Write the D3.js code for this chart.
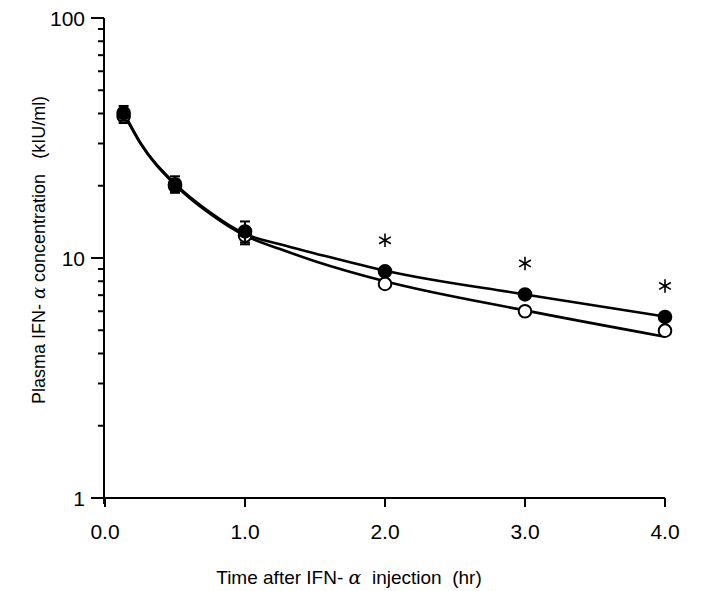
<!DOCTYPE html>
<html>
<head>
<meta charset="utf-8">
<script src="https://cdn.jsdelivr.net/npm/d3@7"></script>
<style>
body { margin: 0; background: #fff; }
text { font-family: "Liberation Sans", Arial, sans-serif; fill: #000; }
</style>
</head>
<body>
<svg id="svg1" width="703" height="591"></svg>
<script>
// measured points (hr, kIU/ml)
var times = [0.133, 0.5, 1.0, 2.0, 3.0, 4.0];
var filledVals = [40.2, 20.3, 12.9, 8.8, 7.05, 5.68];
var filledErr  = [2.8, 1.6, 1.3, 0, 0, 0];
var openVals   = [39.0, 20.0, 12.4, 7.8, 6.0, 4.98];
var openErr    = [2.5, 1.2, 1.0, 0, 0, 0];
var starTimes  = [2.0, 3.0, 4.0];

// fitted curves
var curveTimes = [0.133, 0.25, 0.5, 0.75, 1.0, 1.25, 1.5, 2.0, 3.0, 4.0];
var filledCurve = [40.5, 30.4, 20.4, 15.5, 12.6, 11.4, 10.45, 8.85, 7.05, 5.7];
var openCurve   = [40.0, 30.2, 20.2, 15.3, 12.4, 10.9, 9.7, 8.0, 6.05, 4.7];

var xTicks = [0, 1, 2, 3, 4];
var yMajor = [1, 10, 100];

var svg = d3.select("#svg1");

var x = d3.scaleLinear().domain([0, 4]).range([105, 665]);
var y = d3.scaleLog().domain([1, 100]).range([498, 18]);

// y minor ticks 2..9 in each decade
var yMinor = [];
for (var d = 1; d < 100; d *= 10)
    for (var k = 2; k <= 9; k++) yMinor.push(d * k);

var yAxis = svg.append("g").attr("transform", "translate(104,0)");
yAxis.append("line")
    .attr("x1", 0).attr("x2", 0)
    .attr("y1", y(100)).attr("y2", y(1) + 6)
    .attr("stroke", "#000").attr("stroke-width", 2);
yAxis.selectAll(".maj").data(yMajor).enter().append("line")
    .attr("x1", -13).attr("x2", 0)
    .attr("y1", function(d) { return y(d); })
    .attr("y2", function(d) { return y(d); })
    .attr("stroke", "#000").attr("stroke-width", 2);
yAxis.selectAll(".min").data(yMinor).enter().append("line")
    .attr("x1", -6).attr("x2", 0)
    .attr("y1", function(d) { return y(d); })
    .attr("y2", function(d) { return y(d); })
    .attr("stroke", "#000").attr("stroke-width", 2);
yAxis.selectAll("text").data(yMajor).enter().append("text")
    .attr("x", -19)
    .attr("y", function(d) { return y(d); })
    .attr("dy", "0.36em")
    .attr("text-anchor", "end")
    .attr("font-size", 21)
    .text(function(d) { return d; });

// x axis
var xAxis = svg.append("g").attr("transform", "translate(0," + y(1) + ")");
xAxis.append("line")
    .attr("x1", 104).attr("x2", x(4))
    .attr("y1", 0).attr("y2", 0)
    .attr("stroke", "#000").attr("stroke-width", 2);
xAxis.selectAll("line.t").data(xTicks).enter().append("line")
    .attr("x1", function(d) { return x(d); })
    .attr("x2", function(d) { return x(d); })
    .attr("y1", 0).attr("y2", 9)
    .attr("stroke", "#000").attr("stroke-width", 2);
xAxis.selectAll("text").data(xTicks).enter().append("text")
    .attr("x", function(d) { return x(d); })
    .attr("y", 41)
    .attr("text-anchor", "middle")
    .attr("font-size", 21)
    .text(function(d) { return d.toFixed(1); });

// axis titles
var xt = svg.append("text")
    .attr("x", 349).attr("y", 584)
    .attr("text-anchor", "middle")
    .attr("font-size", 19)
    .attr("xml:space", "preserve");
xt.append("tspan").text("Time after IFN- ");
xt.append("tspan").attr("font-style", "italic").attr("font-family", "DejaVu Serif").text("α");
xt.append("tspan").text("  injection  (hr)");

var yt = svg.append("text")
    .attr("transform", "translate(45,250) rotate(-90)")
    .attr("text-anchor", "middle")
    .attr("font-size", 18)
    .attr("xml:space", "preserve");
yt.append("tspan").text("Plasma IFN- ");
yt.append("tspan").attr("font-style", "italic").attr("font-family", "DejaVu Serif").text("α");
yt.append("tspan").text(" concentration   (kIU/ml)");

// fitted curves
var line = d3.line()
    .x(function(d) { return x(d[0]); })
    .y(function(d) { return y(d[1]); })
    .curve(d3.curveMonotoneX);

function drawCurve(vals) {
    svg.append("path")
        .datum(curveTimes.map(function(t, i) { return [t, vals[i]]; }))
        .attr("d", line)
        .attr("fill", "none")
        .attr("stroke", "#000")
        .attr("stroke-width", 2.6);
}
drawCurve(openCurve);
drawCurve(filledCurve);

// error bars and points
function drawPoints(vals, errs, fill) {
    var g = svg.append("g");
    for (var i = 0; i < times.length; i++) {
        if (errs[i] > 0) {
            var cx = x(times[i]);
            g.append("line")
                .attr("x1", cx).attr("x2", cx)
                .attr("y1", y(vals[i] + errs[i])).attr("y2", y(vals[i] - errs[i]))
                .attr("stroke", "#000").attr("stroke-width", 2);
            [vals[i] + errs[i], vals[i] - errs[i]].forEach(function(v) {
                g.append("line")
                    .attr("x1", cx - 5).attr("x2", cx + 5)
                    .attr("y1", y(v)).attr("y2", y(v))
                    .attr("stroke", "#000").attr("stroke-width", 2);
            });
        }
    }
    g.selectAll("circle").data(vals).enter().append("circle")
        .attr("cx", function(d, i) { return x(times[i]); })
        .attr("cy", function(d) { return y(d); })
        .attr("r", 6.3)
        .attr("fill", fill)
        .attr("stroke", "#000")
        .attr("stroke-width", 2);
}
drawPoints(openVals, openErr, "#fff");
drawPoints(filledVals, filledErr, "#000");

// significance marks over the filled points
var star = d3.symbol().type(d3.symbolAsterisk).size(130);
svg.selectAll("path.star").data(starTimes).enter().append("path")
    .attr("class", "star")
    .attr("d", star)
    .attr("transform", function(d) {
        return "translate(" + x(d) + "," + (y(filledVals[times.indexOf(d)]) - 31) + ")";
    })
    .attr("fill", "none")
    .attr("stroke", "#000")
    .attr("stroke-width", 1.6);
</script>
</body>
</html>
